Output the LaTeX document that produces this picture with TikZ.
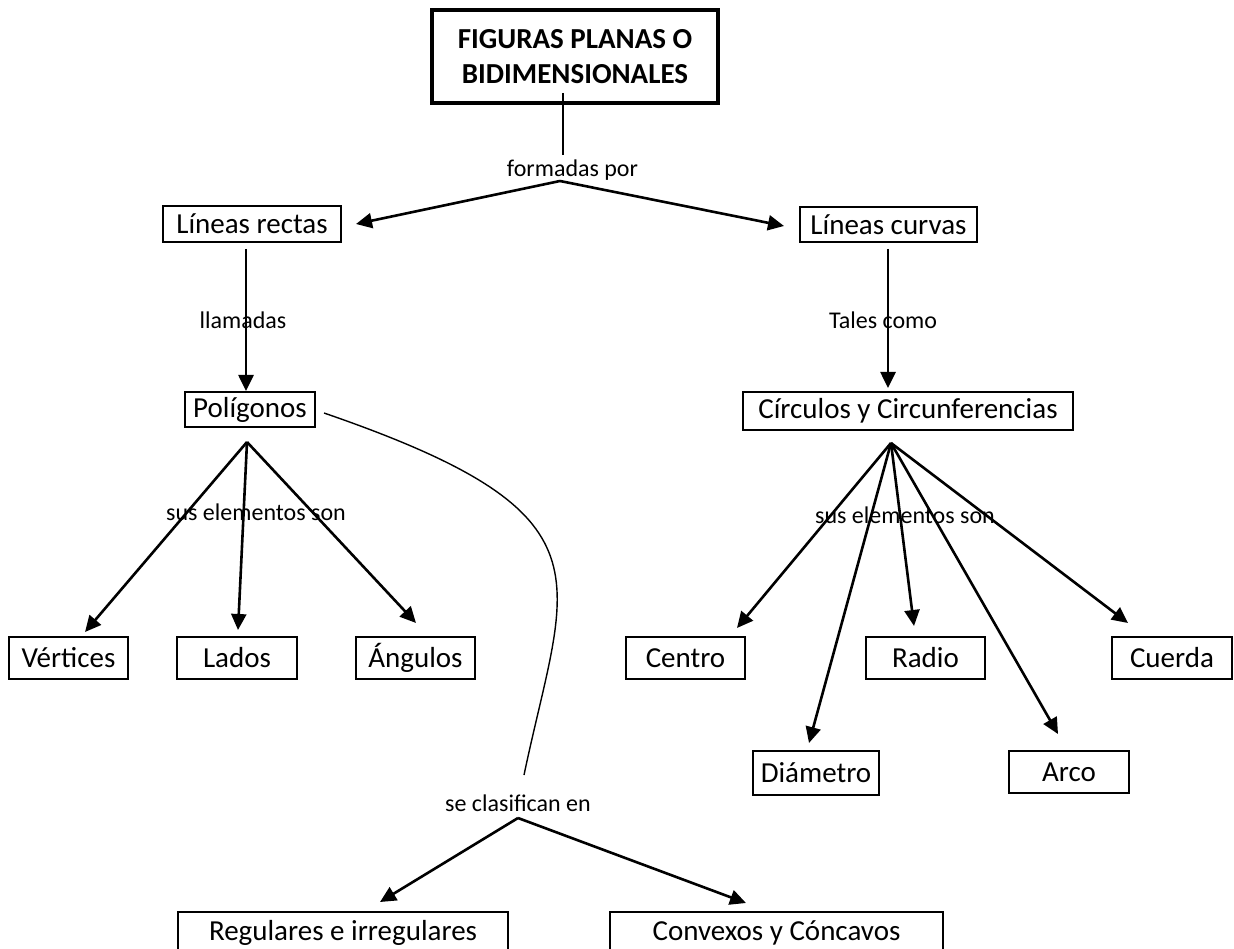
\documentclass[tikz,border=0pt]{standalone}
\usepackage{fontspec}
\setmainfont{Carlito}
\usetikzlibrary{arrows.meta}
\begin{document}
\begin{tikzpicture}[x=1pt,y=-1pt,
  box/.style={draw, line width=2pt, inner sep=0pt, align=center, font=\fontsize{29}{35}\selectfont},
  lbl/.style={inner sep=0pt, font=\fontsize{24}{29}\selectfont},
  arr/.style={line width=2.6pt, -{Triangle[length=16pt,width=15pt]}},
  thinline/.style={line width=1.4pt}]
\clip (0,0) rectangle (1234,949);
\fill[white] (0,0) rectangle (1234,949);
% nodes
\node[box, line width=4pt, minimum width=286pt, minimum height=93pt, font=\fontsize{29}{35}\selectfont\bfseries] (title) at (575,56.5) {FIGURAS PLANAS O\\BIDIMENSIONALES};
\node[box, minimum width=178pt, minimum height=36pt] (rectas) at (252,224) {Líneas rectas};
\node[box, minimum width=177pt, minimum height=35pt] (curvas) at (888.5,224.5) {Líneas curvas};
\node[box, minimum width=130pt, minimum height=35pt] (poli) at (250,409.5) {Polígonos};
\node[box, minimum width=330pt, minimum height=38pt] (circ) at (908,411) {Círculos y Circunferencias};
\node[box, minimum width=119pt, minimum height=42pt] (vert) at (68.5,658) {Vértices};
\node[box, minimum width=120pt, minimum height=42pt] (lados) at (237,658) {Lados};
\node[box, minimum width=119pt, minimum height=42pt] (ang) at (415.5,658) {Ángulos};
\node[box, minimum width=119pt, minimum height=42pt] (centro) at (685.5,658) {Centro};
\node[box, minimum width=119pt, minimum height=42pt] (radio) at (925.5,658) {Radio};
\node[box, minimum width=120pt, minimum height=42pt] (cuerda) at (1172,658) {Cuerda};
\node[box, minimum width=126pt, minimum height=44pt] (diam) at (816,773) {Diámetro};
\node[box, minimum width=120pt, minimum height=42pt] (arco) at (1069,772) {Arco};
\node[box, minimum width=330pt, minimum height=42pt] (reg) at (343,933) {Regulares e irregulares};
\node[box, minimum width=333pt, minimum height=42pt] (conv) at (776.5,933) {Convexos y Cóncavos};
% labels
\node[lbl] (lformadas) at (572.5,170) {formadas por};
\node[lbl] (lllamadas) at (243,320) {llamadas};
\node[lbl] (ltales) at (883,320) {Tales como};
\node[lbl] (lsusL) at (256,512) {sus elementos son};
\node[lbl] (lsusR) at (905,515) {sus elementos son};
\node[lbl] (lclas) at (518,803) {se clasifican en};
% coordinates
\coordinate (t0) at (563,93);
\coordinate (t1) at (563,155);
\coordinate (fk) at (560,181);
\coordinate (tipRectas) at (356,224);
\coordinate (tipCurvas) at (784,226);
\coordinate (sRectas) at (246,249);
\coordinate (tipPoli) at (246,391);
\coordinate (sCurvas) at (888,249);
\coordinate (tipCirc) at (888,388);
\coordinate (pa) at (247,442);
\coordinate (tipVert) at (85,632);
\coordinate (tipLados) at (238,630);
\coordinate (tipAng) at (416,623);
\coordinate (ca) at (891,443);
\coordinate (tipCentro) at (737,628);
\coordinate (tipRadio) at (914,626);
\coordinate (tipCuerda) at (1128,623);
\coordinate (tipDiam) at (809,743);
\coordinate (tipArco) at (1058,734);
\coordinate (cs) at (324,413);
\coordinate (ce) at (524,775);
\coordinate (ba) at (518,818);
\coordinate (tipReg) at (380,902);
\coordinate (tipConv) at (746,903);
% connectors
\draw[thinline] (t0) -- (t1);
\draw[arr] (fk) -- (tipRectas);
\draw[arr] (fk) -- (tipCurvas);
\draw[arr] (sRectas) -- (tipPoli);
\draw[arr] (sCurvas) -- (tipCirc);
\draw[arr] (pa) -- (tipVert);
\draw[arr] (pa) -- (tipLados);
\draw[arr] (pa) -- (tipAng);
\draw[arr] (ca) -- (tipCentro);
\draw[arr] (ca) -- (tipRadio);
\draw[arr] (ca) -- (tipCuerda);
\draw[arr] (ca) -- (tipDiam);
\draw[arr] (ca) -- (tipArco);
\draw[thinline] (cs) .. controls (620,515) and (566,575) .. (ce);
\draw[arr] (ba) -- (tipReg);
\draw[arr] (ba) -- (tipConv);
\end{tikzpicture}
\end{document}
